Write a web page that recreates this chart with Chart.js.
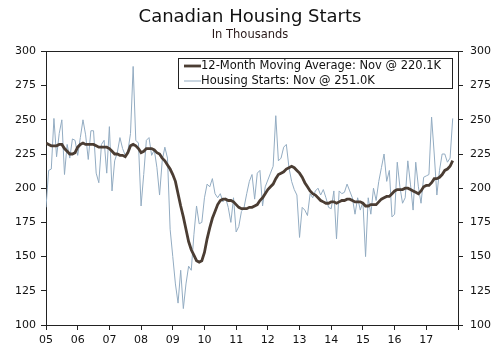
<!DOCTYPE html>
<html>
<head>
<meta charset="utf-8">
<script src="https://cdn.jsdelivr.net/npm/chart.js@4.4.1/dist/chart.umd.min.js"></script>
<style>
  html, body { margin: 0; padding: 0; background: #fff; }
</style>
</head>
<body>
<canvas id="chart" width="500" height="351"></canvas>
<script>
// Chart data (monthly, Jan 2005 - Nov 2017), thousands of units
const yearLabels = ['05', '06', '07', '08', '09', '10', '11', '12', '13', '14', '15', '16', '17'];
const avgLabel = '12-Month Moving Average: Nov @ 220.1K';
const startsLabel = 'Housing Starts: Nov @ 251.0K';

const housingStarts = [
  186, 213, 214, 251, 223, 240, 250, 210, 232, 222, 236, 235, // 2005
  224, 237, 250, 239, 221, 242, 242, 211, 204, 232, 235, 211, // 2006
  245, 198, 220, 226, 237, 229, 224, 227, 240, 289, 235, 233, // 2007
  187, 210, 235, 237, 224, 228, 215, 195, 220, 230, 222, 170, // 2008
  150, 130, 116, 140, 112, 130, 143, 140, 166, 187, 174, 175, // 2009
  193, 203, 201, 207, 196, 193, 196, 190, 193, 186, 175, 193, // 2010
  168, 172, 183, 186, 196, 205, 210, 192, 211, 213, 187, 201, // 2011
  206, 211, 216, 253, 220, 222, 230, 232, 215, 205, 199, 195, // 2012
  164, 186, 184, 180, 196, 193, 198, 200, 195, 199, 193, 186, // 2013
  185, 198, 163, 198, 196, 197, 203, 198, 193, 181, 193, 184, // 2014
  190, 150, 193, 181, 200, 191, 205, 215, 225, 205, 213, 179, // 2015
  181, 219, 201, 189, 193, 220, 203, 184, 219, 201, 189, 208, // 2016
  209, 210, 252, 225, 195, 213, 225, 225, 219, 222, 251       // 2017
];

const movingAverage = [
  233, 232, 231, 231, 231, 232, 232, 229, 227, 225, 225, 226,
  230, 232, 233, 232, 232, 232, 232, 231, 230, 230, 230, 230,
  229, 227, 225, 225, 224, 224, 223, 226, 231, 232, 231, 229,
  226, 227, 229, 229, 229, 228, 226, 225, 222, 220, 217, 214,
  210, 205, 196, 187, 179, 170, 161, 155, 151, 147, 146, 147,
  153, 163, 171, 178, 183, 188, 191, 192, 192, 191, 191, 190,
  188, 186, 185, 185, 185, 186, 186, 187, 188, 191, 193, 196,
  199, 201, 203, 207, 210, 211, 212, 214, 215, 216, 215, 213,
  211, 208, 204, 201, 198, 196, 195, 193, 191, 190, 189, 189,
  190, 190, 189, 190, 191, 191, 192, 192, 191, 190, 190, 190,
  189, 187, 187, 188, 188, 188, 190, 192, 193, 194, 194, 196,
  198, 199, 199, 199, 200, 200, 199, 198, 197, 196, 198, 201,
  202, 202, 204, 207, 207, 208, 210, 213, 214, 216, 220.1
];

const yMin = 100, yMax = 300, yStep = 25;

const toPoints = arr => arr.map((v, i) => ({ x: i, y: v }));

const FONT = '"DejaVu Sans", Verdana, sans-serif';

// legend box + top frame line
const legendBox = {
  id: 'legendBox',
  afterDraw(chart) {
    const { ctx, chartArea: a } = chart;
    ctx.save();
    ctx.strokeStyle = '#222';
    ctx.lineWidth = 1;
    ctx.beginPath();
    ctx.moveTo(a.left, Math.round(a.top) + 0.5);
    ctx.lineTo(a.right, Math.round(a.top) + 0.5);
    ctx.stroke();

    const x0 = Math.round(a.left + 132), y0 = Math.round(a.top + 7);
    const w = Math.round(a.right - 6) - x0, h = 30;
    ctx.fillStyle = '#fff';
    ctx.fillRect(x0, y0, w, h);
    ctx.strokeStyle = '#222';
    ctx.strokeRect(x0 + 0.5, y0 + 0.5, w, h);

    ctx.font = '11.5px ' + FONT;
    ctx.textBaseline = 'middle';
    chart.data.datasets.forEach((ds, i) => {
      const y = y0 + 8 + i * 15;
      ctx.strokeStyle = ds.borderColor;
      ctx.lineWidth = ds.borderWidth;
      ctx.beginPath();
      ctx.moveTo(x0 + 6, y);
      ctx.lineTo(x0 + 23, y);
      ctx.stroke();
      ctx.fillStyle = '#111';
      ctx.fillText(ds.label, x0 + 23, y);
    });
    ctx.restore();
  }
};

const yTickCfg = (padding) => ({
  min: yMin,
  max: yMax,
  ticks: { stepSize: yStep, color: '#111', padding, font: { family: FONT, size: 11 } },
  grid: { drawOnChartArea: false, drawTicks: true, tickLength: 5, color: '#222' },
  border: { display: true, color: '#222', width: 1 }
});

new Chart(document.getElementById('chart'), {
  type: 'line',
  data: {
    datasets: [
      {
        label: avgLabel,
        data: toPoints(movingAverage),
        borderColor: '#4b3d33',
        borderWidth: 2.8,
        pointRadius: 0,
        tension: 0,
        yAxisID: 'y'
      },
      {
        label: startsLabel,
        data: toPoints(housingStarts),
        borderColor: '#93acc2',
        borderWidth: 1,
        pointRadius: 0,
        tension: 0,
        yAxisID: 'y'
      }
    ]
  },
  options: {
    responsive: false,
    animation: false,
    layout: { padding: { left: 0, right: 0, top: 0, bottom: 0 } },
    plugins: {
      legend: { display: false },
      tooltip: { enabled: false },
      title: {
        display: true,
        text: 'Canadian Housing Starts',
        color: '#111',
        font: { family: FONT, size: 18, weight: 'normal' },
        padding: { top: 7, bottom: 0 }
      },
      subtitle: {
        display: true,
        text: 'In Thousands',
        color: '#2a1a1a',
        font: { family: FONT, size: 11.5 },
        padding: { top: 0, bottom: 9 }
      }
    },
    scales: {
      x: {
        type: 'linear',
        min: 0,
        max: yearLabels.length * 12,
        ticks: {
          stepSize: 12,
          color: '#111',
          padding: 4,
          maxRotation: 0,
          autoSkip: false,
          font: { family: FONT, size: 11 },
          callback: v => yearLabels[v / 12] || ''
        },
        grid: { drawOnChartArea: false, drawTicks: true, tickLength: 5, color: '#222' },
        border: { display: true, color: '#222', width: 1 },
        afterFit: s => { s.height = 26; }
      },
      y: Object.assign(yTickCfg(5), { position: 'left', afterFit: s => { s.width = 46; } }),
      y2: Object.assign(yTickCfg(7), { position: 'right', afterFit: s => { s.width = 42; } })
    }
  },
  plugins: [legendBox]
});
</script>
</body>
</html>
